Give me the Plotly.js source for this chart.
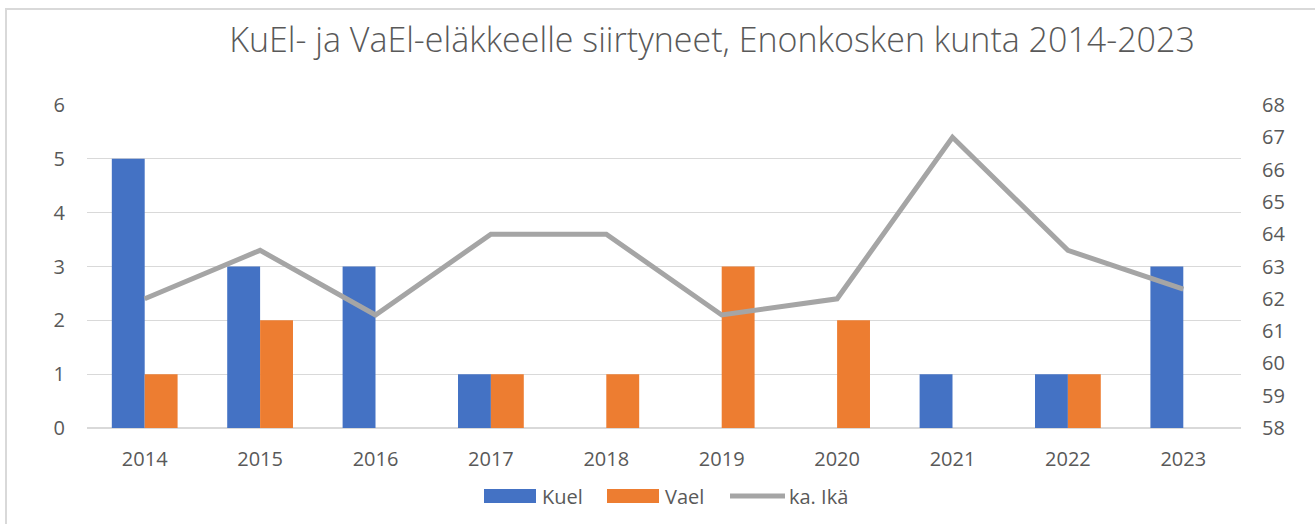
<!DOCTYPE html>
<html><head><meta charset="utf-8">
<script src="https://cdn.plot.ly/plotly-3.0.1.min.js"></script>
<style>body{margin:0;background:#fff}#c{width:1315px;height:524px}</style>
</head><body><div id="c"></div>
<script>
const years = ['2014','2015','2016','2017','2018','2019','2020','2021','2022','2023'];
const kuel = [5,3,3,1,0,0,0,1,1,3];
const vael = [1,2,0,1,1,3,2,0,1,0];
const ika = [62,63.5,61.5,64,64,61.5,62,67,63.5,62.3];
const seriesNames = ['Kuel','Vael','ka. Ikä'];
const colors = ['#4472C4','#ED7D31','#A5A5A5'];

const W = 1315, H = 524, L = 87, R = 74, T = 105, B = 96;
const pw = W - L - R, ph = H - T - B;
const px = x => (x - L) / pw;      // pixel -> paper x
const py = y => (H - B - y) / ph;  // pixel -> paper y

const tickFont = {family:'Open Sans, Noto Sans, sans-serif', size:20, color:'#595959'};
const data = [
 {type:'bar', name:seriesNames[0], x:years, y:kuel, marker:{color:colors[0]}, hoverinfo:'none'},
 {type:'bar', name:seriesNames[1], x:years, y:vael, marker:{color:colors[1]}, hoverinfo:'none'},
 {type:'scatter', mode:'lines', name:seriesNames[2], x:years, y:ika, yaxis:'y2', line:{color:colors[2], width:5}, hoverinfo:'none'}
];

// custom legend (wide swatches like the original)
const legItems = [
 {x0:484, x1:536, tx:540, kind:'rect'},
 {x0:607, x1:659, tx:663, kind:'rect'},
 {x0:730, x1:785, tx:787, kind:'line'}
];
const legY = 496;
const shapes = [{type:'rect', xref:'paper', yref:'paper', x0:px(6), x1:px(1330), y0:py(540), y1:py(9), line:{color:'#D9D9D9', width:2}, fillcolor:'rgba(0,0,0,0)', layer:'below'}];
const annotations = [];
legItems.forEach((it,i)=>{
  if (it.kind==='rect') {
    shapes.push({type:'rect', xref:'paper', yref:'paper', x0:px(it.x0), x1:px(it.x1), y0:py(legY+7), y1:py(legY-7), line:{width:0}, fillcolor:colors[i]});
  } else {
    shapes.push({type:'line', xref:'paper', yref:'paper', x0:px(it.x0), x1:px(it.x1), y0:py(legY), y1:py(legY), line:{color:colors[i], width:5}});
  }
  annotations.push({xref:'paper', yref:'paper', x:px(it.tx), y:py(legY), xanchor:'left', yanchor:'middle', text:seriesNames[i], showarrow:false, font:tickFont});
});

const layout = {
 width:W, height:H,
 margin:{l:L, r:R, t:T, b:B},
 paper_bgcolor:'#fff', plot_bgcolor:'#fff',
 title:{text:'KuEl- ja VaEl-eläkkeelle siirtyneet, Enonkosken kunta 2014-2023', x:712/W, xanchor:'center', y:1-40/H, yanchor:'middle', font:{family:'Open Sans, sans-serif', size:34, color:'#595959', weight:300}},
 barmode:'group', bargap:0.43, bargroupgap:0,
 xaxis:{type:'category', tickmode:'array', tickvals:years, ticktext:years, tickfont:tickFont, showgrid:false, zeroline:false, showline:false, ticks:'', ticklabelstandoff:17},
 yaxis:{range:[0,6], dtick:1, tickfont:tickFont, gridcolor:'#D9D9D9', gridwidth:1.3, zeroline:true, zerolinecolor:'#D9D9D9', zerolinewidth:1.3, showline:false, ticklabelstandoff:21},
 yaxis2:{range:[58,68], dtick:1, overlaying:'y', side:'right', tickfont:tickFont, showgrid:false, zeroline:false, showline:false, ticklabelstandoff:20},
 showlegend:false,
 shapes:shapes,
 annotations:annotations
};
Plotly.newPlot('c', data, layout, {displayModeBar:false, staticPlot:true});
</script></body></html>
